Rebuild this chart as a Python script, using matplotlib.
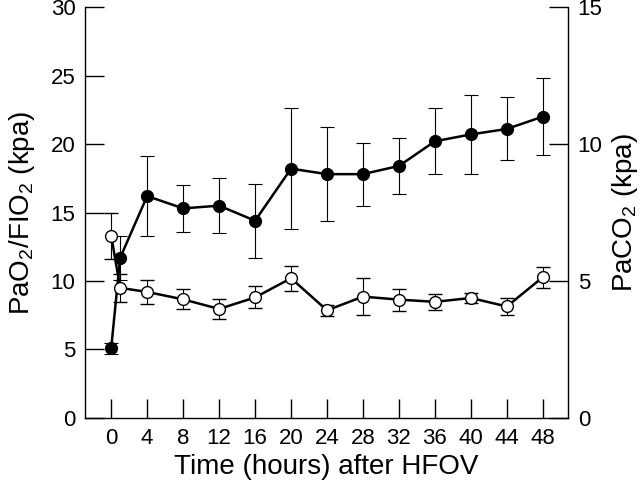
import matplotlib
matplotlib.use("Agg")
import matplotlib.pyplot as plt

plt.rcParams["font.family"] = ["Liberation Sans", "DejaVu Sans"]
plt.rcParams["mathtext.default"] = "regular"

# time points (hours after HFOV)
hours = [0, 1, 4, 8, 12, 16, 20, 24, 28, 32, 36, 40, 44, 48]
xtick_hours = [0, 4, 8, 12, 16, 20, 24, 28, 32, 36, 40, 44, 48]

# PaO2/FIO2 (kpa), filled circles, left axis
pao2_fio2 = [5.1, 11.7, 16.2, 15.3, 15.5, 14.4, 18.2, 17.8, 17.8, 18.4, 20.2, 20.7, 21.1, 22.0]
pao2_fio2_err = [0.4, 1.6, 2.9, 1.7, 2.0, 2.7, 4.4, 3.45, 2.3, 2.05, 2.4, 2.9, 2.3, 2.8]

# PaCO2 (kpa), open circles, right axis
paco2 = [6.65, 4.75, 4.6, 4.33, 3.98, 4.4, 5.1, 3.93, 4.43, 4.32, 4.24, 4.38, 4.07, 5.14]
paco2_err = [0.85, 0.5, 0.43, 0.37, 0.35, 0.4, 0.45, 0.2, 0.68, 0.4, 0.3, 0.2, 0.3, 0.38]

left_ticks = [0, 5, 10, 15, 20, 25, 30]
right_ticks = [0, 5, 10, 15]

fig = plt.figure(figsize=(6.4, 4.87), dpi=100)
ax = fig.add_axes([0.133, 0.1417, 0.7545, 0.8439])
ax2 = ax.twinx()

ax.errorbar(hours, pao2_fio2, yerr=pao2_fio2_err, color="black", lw=1.8,
            marker="o", ms=8.5, mfc="black", mec="black",
            ecolor="black", elinewidth=0.8, capsize=5, capthick=0.8, zorder=3)
ax2.errorbar(hours, paco2, yerr=paco2_err, color="black", lw=1.8,
             marker="o", ms=8.5, mfc="white", mec="black", mew=1.0,
             ecolor="black", elinewidth=0.8, capsize=5, capthick=0.8, zorder=3)

ax.set_xlim(-2.9, 50.8)
ax.set_ylim(0, 30)
ax2.set_ylim(0, 15)

ax.set_xticks(xtick_hours)
ax.set_yticks(left_ticks)
ax2.set_yticks(right_ticks)

for a in (ax, ax2):
    a.spines["top"].set_visible(False)
    for s in a.spines.values():
        s.set_linewidth(1.0)
ax.spines["right"].set_visible(False)
ax2.spines["left"].set_visible(False)
ax2.spines["bottom"].set_visible(False)

ax.tick_params(axis="both", direction="in", length=14, width=1.0,
               labelsize=16, pad=7)
ax2.tick_params(axis="y", direction="in", length=14, width=1.0,
                labelsize=16, pad=7)

ax.set_xlabel("Time (hours) after HFOV", fontsize=20, labelpad=4)
ax.set_ylabel("PaO$_2$/FIO$_2$ (kpa)", fontsize=20, labelpad=10)
ax2.set_ylabel("PaCO$_2$ (kpa)", fontsize=20, labelpad=5)

fig.savefig("out.png", dpi=100)
